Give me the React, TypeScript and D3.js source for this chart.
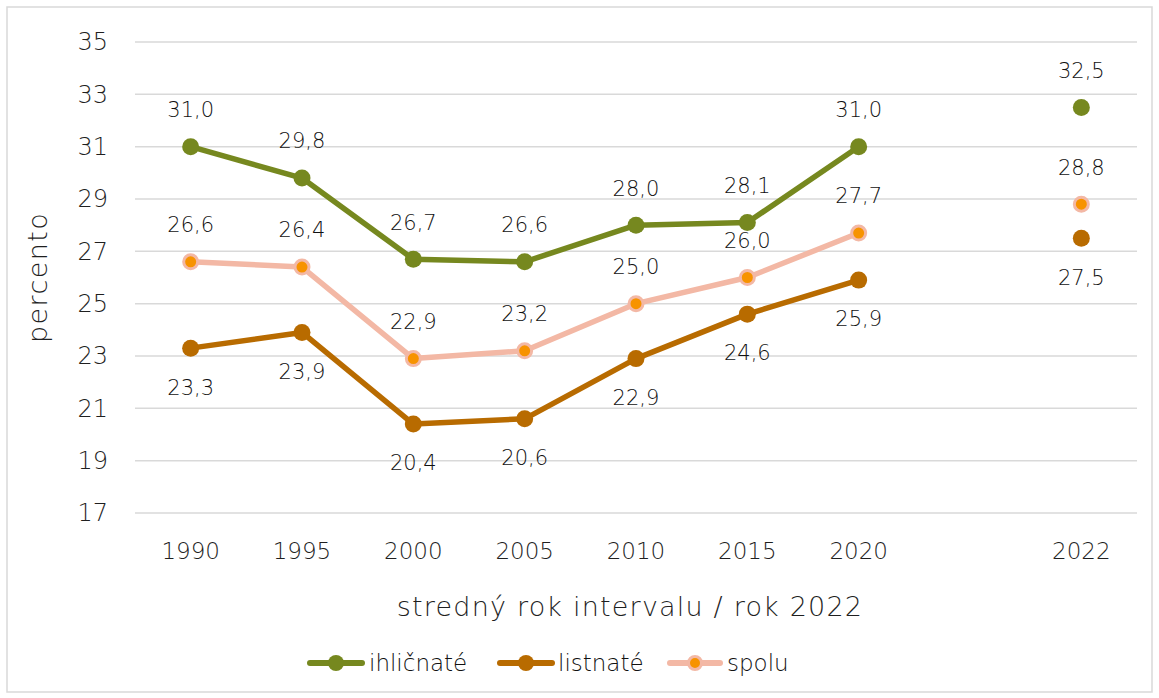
import React, { useEffect, useRef } from 'react';
import * as d3 from 'd3';

const categories = ['1990', '1995', '2000', '2005', '2010', '2015', '2020', '', '2022'];
const ihlicnate = [31.0, 29.8, 26.7, 26.6, 28.0, 28.1, 31.0, null, 32.5];
const listnate = [23.3, 23.9, 20.4, 20.6, 22.9, 24.6, 25.9, null, 27.5];
const spolu = [26.6, 26.4, 22.9, 23.2, 25.0, 26.0, 27.7, null, 28.8];
const yTicks = [17, 19, 21, 23, 25, 27, 29, 31, 33, 35];

const series = [
  { name: 'ihličnaté', values: ihlicnate, line: '#76881f', fill: '#76881f', stroke: '#76881f', labelPos: 'above' },
  { name: 'listnaté', values: listnate, line: '#b86b00', fill: '#b86b00', stroke: '#b86b00', labelPos: 'below' },
  { name: 'spolu', values: spolu, line: '#f3b8a5', fill: '#f79300', stroke: '#f3b8a5', labelPos: 'above' },
];

const W = 1159;
const H = 698;

const App = () => {
  const svgRef = useRef<SVGSVGElement>(null);

  useEffect(() => {
    document.body.style.margin = '0';
    const svg = d3.select(svgRef.current);
    svg.selectAll('*').remove();

    const font = '"DejaVu Sans", sans-serif';
    const textColor = '#1f1f1f';
    const left = 135, right = 1137, top = 42, bottom = 513;

    svg.append('rect')
      .attr('x', 7).attr('y', 7).attr('width', 1145).attr('height', 685)
      .attr('fill', '#fff').attr('stroke', '#d9d9d9').attr('stroke-width', 1.5);

    const x = d3.scaleBand().domain(categories.map((c, i) => String(i))).range([left, right]);
    const y = d3.scaleLinear().domain([17, 35]).range([bottom, top]);
    const cx = (i: number) => (x(String(i)) as number) + x.bandwidth() / 2;

    // gridlines
    svg.append('g').selectAll('line').data(yTicks).enter().append('line')
      .attr('x1', left).attr('x2', right)
      .attr('y1', d => y(d)).attr('y2', d => y(d))
      .attr('stroke', '#d9d9d9').attr('stroke-width', 1.5);

    // y tick labels
    svg.append('g').selectAll('text').data(yTicks).enter().append('text')
      .attr('x', 108).attr('y', d => y(d)).attr('dy', '0.35em')
      .attr('text-anchor', 'end')
      .style('font-family', font).style('font-size', '24px').style('font-weight', 300).style('fill', textColor)
      .text(d => d);

    // x tick labels
    svg.append('g').selectAll('text').data(categories).enter().append('text')
      .attr('x', (d, i) => cx(i)).attr('y', 551).attr('dy', '0.35em')
      .attr('text-anchor', 'middle')
      .style('font-family', font).style('font-size', '23px').style('font-weight', 300).style('fill', textColor)
      .text(d => d);

    // axis titles
    svg.append('text')
      .attr('transform', `translate(38, ${(top + bottom) / 2}) rotate(-90)`)
      .attr('text-anchor', 'middle').attr('dy', '0.35em')
      .style('font-family', font).style('font-size', '27px').style('font-weight', 300)
      .style('letter-spacing', '1.4px').style('fill', textColor)
      .text('percento');
    svg.append('text')
      .attr('x', (left + right) / 2 - 6).attr('y', 607).attr('dy', '0.35em')
      .attr('text-anchor', 'middle')
      .style('font-family', font).style('font-size', '27px').style('font-weight', 300)
      .style('letter-spacing', '1.2px').style('fill', textColor)
      .text('stredný rok intervalu / rok 2022');

    const line = d3.line<number | null>()
      .defined(d => d !== null)
      .x((d, i) => cx(i))
      .y(d => y(d as number));

    series.forEach(s => {
      const g = svg.append('g');
      // only the 1990-2020 run is joined by a line
      g.append('path')
        .datum(s.values.slice(0, 7))
        .attr('d', line)
        .attr('fill', 'none').attr('stroke', s.line).attr('stroke-width', 5.5)
        .attr('stroke-linejoin', 'round');
      const pts = s.values.map((v, i) => ({ v, i })).filter(p => p.v !== null);
      g.selectAll('circle').data(pts).enter().append('circle')
        .attr('cx', d => cx(d.i)).attr('cy', d => y(d.v as number))
        .attr('r', s.name === 'spolu' ? 7 : 8.5)
        .attr('fill', s.fill).attr('stroke', s.stroke).attr('stroke-width', s.name === 'spolu' ? 3 : 0);
      g.selectAll('text').data(pts).enter().append('text')
        .attr('x', d => cx(d.i))
        .attr('y', d => y(d.v as number) + (s.labelPos === 'above' ? -37 : 39))
        .attr('dy', '0.35em').attr('text-anchor', 'middle')
        .style('font-family', font).style('font-weight', 300)
        .style('font-size', '21px').style('fill', '#111')
        .text(d => (d.v as number).toFixed(1).replace('.', ','));
    });

    // legend
    const legendItems = [
      { s: series[0], x1: 307, x2: 365, tx: 369 },
      { s: series[1], x1: 497, x2: 555, tx: 558 },
      { s: series[2], x1: 667, x2: 723, tx: 727 },
    ];
    const ly = 663;
    legendItems.forEach(({ s, x1, x2, tx }) => {
      svg.append('line')
        .attr('x1', x1 + 3).attr('x2', x2 - 3).attr('y1', ly).attr('y2', ly)
        .attr('stroke', s.line).attr('stroke-width', 6).attr('stroke-linecap', 'round');
      svg.append('circle')
        .attr('cx', (x1 + x2) / 2).attr('cy', ly)
        .attr('r', s.name === 'spolu' ? 6.5 : 8)
        .attr('fill', s.fill).attr('stroke', s.stroke).attr('stroke-width', s.name === 'spolu' ? 3 : 0);
      svg.append('text')
        .attr('x', tx).attr('y', ly).attr('dy', '0.35em')
        .style('font-family', font).style('font-size', '23px').style('font-weight', 300)
        .style('fill', '#111')
        .text(s.name);
    });
  }, []);

  return <svg ref={svgRef} width={W} height={H} style={{ display: 'block' }} />;
};

export default App;
